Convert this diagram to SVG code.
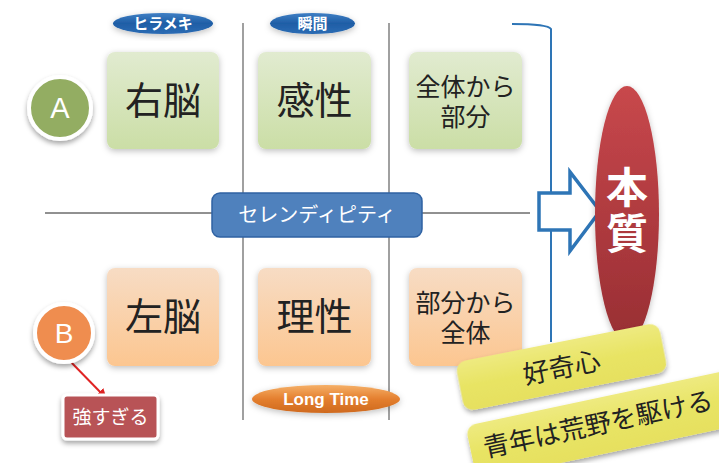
<svg xmlns="http://www.w3.org/2000/svg" width="719" height="463" viewBox="0 0 719 463">
<defs>
<linearGradient id="gGreen" x1="0" y1="0" x2="0" y2="1"><stop offset="0" stop-color="#e1ebd0"/><stop offset="1" stop-color="#cbdea6"/></linearGradient>
<linearGradient id="gOrange" x1="0" y1="0" x2="0" y2="1"><stop offset="0" stop-color="#f7dcc4"/><stop offset="1" stop-color="#fcc690"/></linearGradient>
<linearGradient id="gBlue" x1="0" y1="0" x2="0" y2="1"><stop offset="0" stop-color="#3f7fc4"/><stop offset="0.5" stop-color="#1f5ea6"/><stop offset="1" stop-color="#2c6cb4"/></linearGradient>
<linearGradient id="gLong" x1="0" y1="0" x2="0" y2="1"><stop offset="0" stop-color="#f5b068"/><stop offset="0.5" stop-color="#e47f2e"/><stop offset="1" stop-color="#cf6a1e"/></linearGradient>
<linearGradient id="gRed" x1="0" y1="0" x2="0" y2="1"><stop offset="0" stop-color="#c8484c"/><stop offset="1" stop-color="#982e33"/></linearGradient>
<linearGradient id="gYellow" x1="0" y1="0" x2="0" y2="1"><stop offset="0" stop-color="#eeea80"/><stop offset="0.5" stop-color="#e8e464"/><stop offset="1" stop-color="#e6e060"/></linearGradient>
<filter id="sh" x="-20%" y="-20%" width="140%" height="150%"><feDropShadow dx="0" dy="2" stdDeviation="3" flood-color="#000" flood-opacity="0.25"/></filter>
<filter id="sh2" x="-20%" y="-20%" width="140%" height="160%"><feDropShadow dx="0" dy="3" stdDeviation="2.5" flood-color="#000" flood-opacity="0.35"/></filter>
<marker id="ar" viewBox="0 0 10 10" refX="9" refY="5" markerWidth="5" markerHeight="5" orient="auto"><path d="M0,0 L10,5 L0,10 z" fill="#e02424"/></marker>
<style>
.jp{font-family:"Noto Sans CJK JP","Noto Sans",sans-serif;}
.big{font-size:38px;fill:#222;text-anchor:middle;}
.mid{font-size:25px;fill:#222;text-anchor:middle;}
.pill{font-size:15px;font-weight:bold;fill:#fff;text-anchor:middle;}
.vline{stroke:#808080;stroke-width:1.5;}
.gbox{fill:url(#gGreen);filter:url(#sh);}
.obox{fill:url(#gOrange);filter:url(#sh);}
</style>
</defs>
<g id="connectors">
<line class="vline" x1="243" y1="23" x2="243" y2="420"/>
<line class="vline" x1="389" y1="23" x2="389" y2="420"/>
<line x1="45" y1="213" x2="530" y2="213" stroke="#222" stroke-width="1"/>
<path d="M512,24 Q548,24 551,29 L551,342" fill="none" stroke="#2e75b6" stroke-width="2"/>
<line x1="67" y1="358" x2="106" y2="398" stroke="#e02424" stroke-width="2" marker-end="url(#ar)"/>
</g>
<g id="pill-hirameki"><ellipse cx="163" cy="23.5" rx="50" ry="10.5" fill="url(#gBlue)" filter="url(#sh)"/><text class="jp pill" x="163" y="29">ヒラメキ</text></g>
<g id="pill-shunkan"><ellipse cx="312.5" cy="23.5" rx="42.5" ry="10.5" fill="url(#gBlue)" filter="url(#sh)"/><text class="jp pill" x="312.5" y="29">瞬間</text></g>
<g id="circle-a"><circle cx="60" cy="108" r="31" fill="#93ad62" stroke="#fff" stroke-width="4" filter="url(#sh2)"/><text x="60" y="118" font-family="Liberation Sans,sans-serif" font-size="29" fill="#fff" text-anchor="middle">A</text></g>
<g id="box-unou"><rect class="gbox" x="107" y="52" width="112" height="97" rx="8"/><text class="jp big" x="163" y="114">右脳</text></g>
<g id="box-kansei"><rect class="gbox" x="258" y="52" width="113" height="97" rx="8"/><text class="jp big" x="314.5" y="114">感性</text></g>
<g id="box-zentai"><rect class="gbox" x="409" y="52" width="113" height="97" rx="8"/><text class="jp mid" x="465.5" y="96">全体から</text><text class="jp mid" x="465.5" y="126">部分</text></g>
<g id="serendipity"><rect x="212" y="193" width="210" height="44" rx="8" fill="#4f81bd" stroke="#2f62a3" stroke-width="1.5"/><text class="jp" x="317" y="222" font-size="20" fill="#fff" text-anchor="middle">セレンディピティ</text></g>
<g id="circle-b"><circle cx="64" cy="333" r="29" fill="#ef8d50" stroke="#fff" stroke-width="4" filter="url(#sh2)"/><text x="64" y="343" font-family="Liberation Sans,sans-serif" font-size="28" fill="#fff" text-anchor="middle">B</text></g>
<g id="box-sanou"><rect class="obox" x="107" y="268" width="112" height="98" rx="8"/><text class="jp big" x="163" y="330">左脳</text></g>
<g id="box-risei"><rect class="obox" x="258" y="268" width="113" height="98" rx="8"/><text class="jp big" x="314.5" y="330">理性</text></g>
<g id="box-bubun"><rect class="obox" x="409" y="268" width="113" height="98" rx="8"/><text class="jp mid" x="465.5" y="312">部分から</text><text class="jp mid" x="465.5" y="342">全体</text></g>
<g id="pill-longtime"><ellipse cx="326" cy="399" rx="74" ry="14" fill="url(#gLong)" filter="url(#sh)"/><text x="326" y="405" font-family="Liberation Sans,sans-serif" font-size="17" font-weight="bold" fill="#fff" text-anchor="middle">Long Time</text></g>
<g id="box-tsuyosugiru"><rect x="63" y="395" width="95" height="44" rx="4" fill="#b85356" stroke="#fff" stroke-width="3" filter="url(#sh2)"/><text class="jp" x="110.5" y="424" font-size="19" fill="#fff" text-anchor="middle">強すぎる</text></g>
<g id="arrow-big"><path d="M539,193 L570,193 L570,172 L600,211 L570,251 L570,230 L539,230 Z" fill="#fff" stroke="#2e75b6" stroke-width="3.5" stroke-linejoin="miter"/></g>
<g id="honshitsu"><ellipse cx="627" cy="214" rx="32" ry="128" fill="url(#gRed)" filter="url(#sh)"/><text class="jp" x="627" y="203" font-size="42" font-weight="bold" fill="#fff" text-anchor="middle">本</text><text class="jp" x="627" y="249" font-size="42" font-weight="bold" fill="#fff" text-anchor="middle">質</text></g>
<g id="bar-seinen" transform="translate(600,424) rotate(-12)"><rect x="-132" y="-26" width="290" height="56" rx="10" fill="url(#gYellow)" filter="url(#sh2)"/><text class="jp" x="-2" y="9" font-size="26" fill="#222" text-anchor="middle">青年は荒野を駆ける</text></g>
<g id="bar-kokishin" transform="translate(561.5,367) rotate(-11.2)"><rect x="-103.5" y="-25" width="207" height="50" rx="10" fill="url(#gYellow)" filter="url(#sh2)"/><text class="jp" x="0" y="10" font-size="26" fill="#222" text-anchor="middle">好奇心</text></g>
</svg>
